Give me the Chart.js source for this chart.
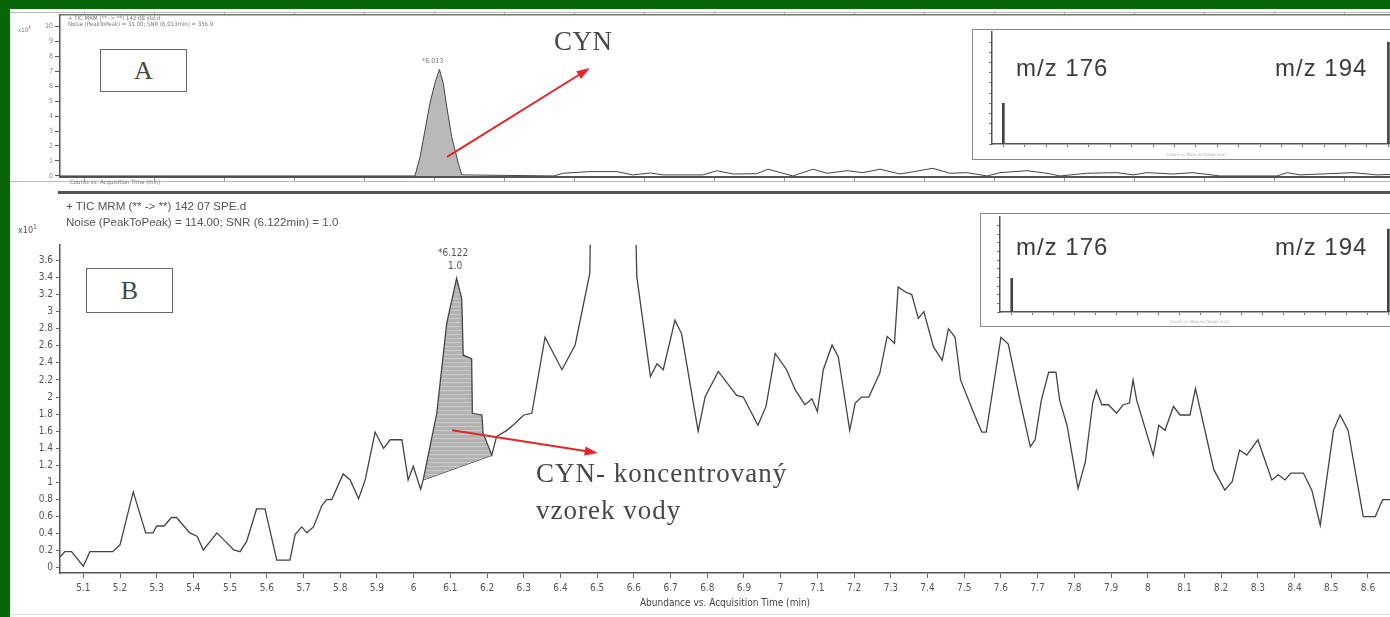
<!DOCTYPE html>
<html>
<head>
<meta charset="utf-8">
<script src="https://cdn.jsdelivr.net/npm/chart.js@4.4.1/dist/chart.umd.min.js"></script>
<style>
  html, body { margin: 0; padding: 0; }
  body { width: 1390px; height: 617px; background: #056705; overflow: hidden; position: relative; }
  #sheet { position: absolute; left: 10px; top: 9px; width: 1380px; height: 608px; background: #fff; }
  .abs { position: absolute; white-space: nowrap; line-height: 1; }
  canvas { display: block; }
  .tiny { font-family: 'DejaVu Sans Condensed', 'Liberation Sans Narrow', sans-serif; color: #555; }
  .head { font-family: 'Liberation Sans', Arial, sans-serif; color: #555; font-size: 11.6px; }
  .serif { font-family: 'Liberation Serif', 'Times New Roman', serif; color: #474747; }
  .box { border: 1px solid #666; background: #fff; text-align: center; }
  .inset { border: 1px solid #888; background: #fff; overflow: hidden; }
  .mz { font-family: 'Liberation Sans', Arial, sans-serif; font-size: 24px; letter-spacing: 1px; color: #3c3c3c; }
  .rule { position: absolute; }
</style>
</head>
<body>
<div id="sheet"></div>

<!-- panel A -->
<div class="rule" style="left:10px;top:12px;width:1380px;height:1px;background:#bbb"></div>
<canvas id="chartA" class="abs" width="1380" height="180" style="left:10px;top:9px"></canvas>
<div class="rule" style="left:10px;top:181px;width:1380px;height:1px;background:#bbb"></div>
<div class="rule" style="left:58px;top:191px;width:1332px;height:3px;background:#555"></div>

<!-- panel B -->
<canvas id="chartB" class="abs" width="1380" height="422" style="left:10px;top:195px"></canvas>
<div class="rule" style="left:10px;top:614px;width:1380px;height:1px;background:#ddd"></div>

<!-- spectra insets -->
<div class="abs inset" style="left:972px;top:29px;width:428px;height:129px">
  <canvas id="insetA" width="428" height="129"></canvas>
</div>
<div class="abs inset" style="left:980px;top:213px;width:418px;height:112px">
  <canvas id="insetB" width="418" height="112"></canvas>
</div>
<div class="abs mz" style="left:1016px;top:56px">m/z 176</div>
<div class="abs mz" style="left:1275px;top:56px">m/z 194</div>
<div class="abs mz" style="left:1016px;top:235px">m/z 176</div>
<div class="abs mz" style="left:1275px;top:235px">m/z 194</div>

<!-- labels -->
<div class="abs tiny" style="left:68px;top:15px;font-size:6px;color:#777">+ TIC MRM (** -&gt; **) 142 08 std.d</div>
<div class="abs tiny" style="left:68px;top:21px;font-size:6px;color:#777">Noise (PeakToPeak) = 31.00; SNR (6.013min) = 356.9</div>
<div class="abs tiny" style="left:18px;top:25px;font-size:6px;color:#777">x10<sup>4</sup></div>
<div class="abs tiny" style="left:422px;top:58px;font-size:7px;color:#777">*6.013</div>
<div class="abs tiny" style="left:70px;top:179px;font-size:6px;color:#777">Counts vs. Acquisition Time (min)</div>

<div class="abs box serif" style="left:100px;top:49px;width:85px;height:41px;line-height:41px;font-size:26px">A</div>
<div class="abs box serif" style="left:86px;top:268px;width:85px;height:43px;line-height:43px;font-size:26px">B</div>
<div class="abs serif" style="left:554px;top:28px;font-size:27px;letter-spacing:0.5px">CYN</div>
<div class="abs serif" style="left:536px;top:460px;font-size:27px;letter-spacing:1px">CYN- koncentrovaný</div>
<div class="abs serif" style="left:536px;top:497px;font-size:27px;letter-spacing:1px">vzorek vody</div>

<div class="abs head" style="left:66px;top:200px">+ TIC MRM (** -&gt; **) 142 07 SPE.d</div>
<div class="abs head" style="left:66px;top:216px">Noise (PeakToPeak) = 114.00; SNR (6.122min) = 1.0</div>
<div class="abs tiny" style="left:18px;top:224px;font-size:9px">x10<sup style="font-size:7px">1</sup></div>
<div class="abs tiny" style="left:438px;top:248px;font-size:10px">*6.122</div>
<div class="abs tiny" style="left:448px;top:261px;font-size:10px">1.0</div>

<script>
// panel B: concentrated water sample, abundance (x10^1) vs time (min)
const bTime = [5.037,5.05,5.068,5.10,5.118,5.18,5.20,5.236,5.27,5.29,
  5.30,5.32,5.34,5.354,5.39,5.41,5.427,5.464,5.51,5.527,
  5.545,5.572,5.595,5.627,5.663,5.677,5.695,5.709,5.727,5.75,
  5.763,5.777,5.808,5.827,5.85,5.868,5.895,5.918,5.936,5.968,
  5.985,5.999,6.019,6.026,6.063,6.09,6.117,6.131,6.135,6.158,
  6.16,6.186,6.189,6.213,6.226,6.254,6.276,6.30,6.322,6.358,
  6.404,6.44,6.48,6.485,6.60,6.608,6.645,6.663,6.68,6.712,
  6.73,6.775,6.794,6.83,6.88,6.898,6.938,6.96,6.985,7.016,
  7.04,7.066,7.085,7.10,7.116,7.14,7.157,7.188,7.203,7.22,
  7.24,7.27,7.29,7.31,7.32,7.34,7.357,7.375,7.39,7.416,
  7.44,7.457,7.475,7.49,7.53,7.548,7.56,7.60,7.62,7.652,
  7.68,7.693,7.71,7.73,7.75,7.76,7.78,7.81,7.83,7.85,
  7.86,7.875,7.893,7.915,7.933,7.95,7.96,7.97,8.015,8.03,
  8.047,8.07,8.088,8.115,8.13,8.18,8.21,8.23,8.25,8.27,
  8.30,8.338,8.356,8.374,8.39,8.424,8.447,8.47,8.506,8.524,
  8.546,8.587,8.62,8.64,8.66];
const bAbund = [0.13,0.19,0.19,0.02,0.19,0.19,0.27,0.89,0.41,0.41,
  0.49,0.49,0.59,0.59,0.41,0.37,0.21,0.41,0.21,0.19,
  0.31,0.69,0.69,0.09,0.09,0.39,0.48,0.41,0.48,0.73,
  0.80,0.80,1.10,1.03,0.81,1.03,1.59,1.40,1.50,1.50,
  1.03,1.19,0.92,1.03,1.81,2.86,3.39,3.15,2.49,2.45,
  1.81,1.79,1.58,1.32,1.54,1.61,1.69,1.79,1.81,2.70,
  2.32,2.61,3.45,5.0,5.0,3.41,2.24,2.39,2.32,2.90,
  2.74,1.60,2.0,2.30,2.02,2.0,1.67,1.89,2.51,2.32,
  2.08,1.91,1.98,1.83,2.32,2.61,2.47,1.61,1.93,2.0,
  2.0,2.28,2.71,2.63,3.29,3.23,3.20,2.92,3.0,2.59,
  2.43,2.80,2.70,2.20,1.77,1.59,1.59,2.70,2.62,1.96,
  1.42,1.5,1.96,2.29,2.29,1.96,1.67,0.93,1.24,1.93,
  2.08,1.91,1.91,1.81,1.91,1.93,2.2,1.96,1.32,1.67,
  1.61,1.89,1.79,1.79,2.1,1.15,0.91,1.01,1.38,1.32,
  1.50,1.03,1.09,1.03,1.11,1.11,0.91,0.50,1.61,1.79,
  1.61,0.60,0.60,0.80,0.80];
const bPeakStart = 6.026;
const bPeakEnd = 6.213;
const bTimeTicks = [5.1,5.2,5.3,5.4,5.5,5.6,5.7,5.8,5.9,6.0,6.1,6.2,6.3,6.4,6.5,6.6,6.7,6.8,
  6.9,7.0,7.1,7.2,7.3,7.4,7.5,7.6,7.7,7.8,7.9,8.0,8.1,8.2,8.3,8.4,8.5,8.6];
const bAbundTicks = [0,0.2,0.4,0.6,0.8,1,1.2,1.4,1.6,1.8,2,2.2,2.4,2.6,2.8,3,3.2,3.4,3.6];

// panel A: standard, counts (x10^4) vs time
const aTime = [4.929,5.943,5.958,5.972,5.986,6.0,6.013,6.024,6.034,6.048,
  6.067,6.077,6.34,6.366,6.443,6.52,6.566,6.615,6.652,6.766,
  6.806,6.852,6.92,6.952,7.023,7.08,7.12,7.178,7.223,7.272,
  7.329,7.423,7.472,7.52,7.578,7.615,7.692,7.749,7.786,7.863,
  7.949,7.995,8.035,8.109,8.166,8.243,8.406,8.435,8.472,8.623,
  8.692,8.729];
const aSignal = [0,0,1.29,3.07,4.85,6.18,7.11,6.18,4.62,2.62,
  0.85,0.07,0,0.18,0.29,0.29,0.07,0.2,0.07,0.07,
  0.35,0.13,0.15,0.45,0,0.45,0.18,0.35,0.22,0.45,
  0.13,0.51,0.18,0.22,0,0.22,0.35,0.18,0,0.18,
  0.22,0.07,0.22,0.13,0.22,0,0,0.22,0.07,0.22,
  0.07,0.1];
const aPeakStart = 5.943;
const aPeakEnd = 6.077;
const aTimeTicks = [5.0,5.2,5.4,5.6,5.8,6.0,6.2,6.4,6.6,6.8,7.0,7.2,7.4,7.6,7.8,8.0,8.2,8.4,8.6];
const aSignalTicks = [0,0.5,1,1.5,2,2.5,3,3.5,4,4.5,5,5.5,6,6.5,7,7.5,8,8.5,9,9.5,10,10.5];

// product ion spectra
const mzTop = [176, 194];
const intTop = [40, 100];
const mzBottom = [176, 194];
const intBottom = [39, 96];
const mzTicks = [176,177,178,179,180,181,182,183,184,185,186,187,188,189,190,191,192,193,194];
const intTicks = [0,10,20,30,40,50,60,70,80,90,100];

const tinyFont = "'DejaVu Sans Condensed', 'Liberation Sans Narrow', sans-serif";
const zip = (xs, ys) => xs.map((x, i) => ({ x, y: ys[i] }));
const between = (xs, ys, lo, hi) => zip(xs, ys).filter((p) => p.x >= lo && p.x <= hi);
const fmt = (v) => String(Math.round(v * 10) / 10);
const setTicks = (arr) => (axis) => { axis.ticks = arr.map((value) => ({ value })); };

function stripes() {
  const c = document.createElement('canvas');
  c.width = 4; c.height = 4;
  const g = c.getContext('2d');
  g.fillStyle = '#b2b2b2'; g.fillRect(0, 0, 4, 4);
  g.fillStyle = '#cacaca'; g.fillRect(0, 3, 4, 1);
  return g.createPattern(c, 'repeat');
}

const arrowPlugin = {
  id: 'arrow',
  afterDatasetsDraw(chart, args, opts) {
    if (!opts || !opts.from) return;
    const { ctx, scales: { x, y } } = chart;
    const x0 = x.getPixelForValue(opts.from[0]), y0 = y.getPixelForValue(opts.from[1]);
    const x1 = x.getPixelForValue(opts.to[0]), y1 = y.getPixelForValue(opts.to[1]);
    const ang = Math.atan2(y1 - y0, x1 - x0);
    const head = 14;
    ctx.save();
    ctx.strokeStyle = ctx.fillStyle = '#e3262b';
    ctx.lineWidth = 2;
    ctx.beginPath();
    ctx.moveTo(x0, y0);
    ctx.lineTo(x1 - head * 0.8 * Math.cos(ang), y1 - head * 0.8 * Math.sin(ang));
    ctx.stroke();
    ctx.beginPath();
    ctx.moveTo(x1, y1);
    ctx.lineTo(x1 - head * Math.cos(ang - 0.33), y1 - head * Math.sin(ang - 0.33));
    ctx.lineTo(x1 - head * Math.cos(ang + 0.33), y1 - head * Math.sin(ang + 0.33));
    ctx.closePath();
    ctx.fill();
    ctx.restore();
  },
};

const axisGrid = { drawOnChartArea: false, tickLength: 5, color: '#666' };

// ---- panel A
new Chart(document.getElementById('chartA'), {
  type: 'line',
  data: {
    datasets: [
      { data: zip(aTime, aSignal), borderColor: '#444', borderWidth: 1, pointRadius: 0, fill: false },
      { data: between(aTime, aSignal, aPeakStart, aPeakEnd), borderWidth: 0, pointRadius: 0,
        fill: 'origin', backgroundColor: '#b9b9b9' },
    ],
  },
  options: {
    responsive: false, animation: false,
    layout: { padding: 0 },
    plugins: { legend: { display: false }, tooltip: { enabled: false },
      arrow: { from: [6.035, 1.27], to: [6.443, 7.2] } },
    scales: {
      x: { type: 'linear', min: 4.929, max: 8.729, afterBuildTicks: setTicks(aTimeTicks),
        afterFit: (s) => { s.height = 12; }, ticks: { display: false },
        grid: { drawOnChartArea: false, tickLength: 5, color: '#999' }, border: { color: '#555', width: 2 } },
      x2: { type: 'linear', position: 'top', min: 4.929, max: 8.729, afterBuildTicks: setTicks(aTimeTicks),
        afterFit: (s) => { s.height = 6; }, ticks: { display: false },
        grid: { drawOnChartArea: false, tickLength: 3, color: '#aaa' }, border: { color: '#777', width: 1.5 } },
      y: { min: -0.07, max: 10.73, afterBuildTicks: setTicks(aSignalTicks),
        afterFit: (s) => { s.width = 50; },
        ticks: { font: { size: 7, family: tinyFont }, color: '#888', padding: 2,
          callback: (v) => (Number.isInteger(v) ? String(v) : '') },
        grid: { drawOnChartArea: false, tickLength: 5, color: '#555' }, border: { color: '#555', width: 1.5 } },
    },
  },
  plugins: [arrowPlugin],
});

// ---- panel B
new Chart(document.getElementById('chartB'), {
  type: 'line',
  data: {
    datasets: [
      { data: zip(bTime, bAbund), borderColor: '#444', borderWidth: 1.3, pointRadius: 0, fill: false },
      { data: between(bTime, bAbund, bPeakStart, bPeakEnd), borderWidth: 0, pointRadius: 0,
        fill: '+1', backgroundColor: stripes() },
      { data: between(bTime, bAbund, bPeakStart, bPeakEnd).filter((p, i, arr) => i === 0 || i === arr.length - 1),
        borderColor: '#333', borderWidth: 1.2, pointRadius: 0, fill: false },
    ],
  },
  options: {
    responsive: false, animation: false,
    layout: { padding: { top: 50, left: 0, right: 0, bottom: 0 } },
    plugins: { legend: { display: false }, tooltip: { enabled: false },
      arrow: { from: [6.105, 1.61], to: [6.502, 1.345] } },
    scales: {
      x: { type: 'linear', min: 5.0365, max: 8.66, afterBuildTicks: setTicks(bTimeTicks),
        afterFit: (s) => { s.height = 44; },
        ticks: { autoSkip: false, maxRotation: 0, font: { size: 10, family: tinyFont }, color: '#555',
          padding: 4, callback: fmt },
        grid: axisGrid, border: { color: '#555', width: 1.5 },
        title: { display: true, text: 'Abundance vs. Acquisition Time (min)', color: '#444',
          font: { size: 10, family: tinyFont }, padding: { top: 0, bottom: 8 } } },
      y: { min: -0.06, max: 3.78, afterBuildTicks: setTicks(bAbundTicks),
        afterFit: (s) => { s.width = 50; },
        ticks: { autoSkip: false, font: { size: 10, family: tinyFont }, color: '#555', padding: 3, callback: fmt },
        grid: { drawOnChartArea: false, tickLength: 4, color: '#666' }, border: { color: '#555', width: 1.5 } },
    },
  },
  plugins: [arrowPlugin],
});

// ---- spectra insets
function spectrum(id, mz, intensity, dims) {
  return new Chart(document.getElementById(id), {
    type: 'bar',
    data: { datasets: [{ data: zip(mz, intensity), backgroundColor: '#444', barThickness: 2 }] },
    options: {
      responsive: false, animation: false,
      layout: { padding: { top: dims.top, left: 0, right: 0, bottom: 0 } },
      plugins: { legend: { display: false }, tooltip: { enabled: false } },
      scales: {
        x: { type: 'linear', offset: false, min: dims.min, max: dims.max, afterBuildTicks: setTicks(mzTicks),
          afterFit: (s) => { s.height = dims.bottom; }, ticks: { display: false },
          grid: { drawOnChartArea: false, offset: false, tickLength: 3, color: '#777' },
          border: { color: '#555', width: 1.5 },
          title: { display: true, text: 'Counts vs. Mass-to-Charge (m/z)', color: '#aaa',
            font: { size: 4, family: tinyFont }, padding: { top: 0, bottom: 2 } } },
        y: { min: 0, max: 110, afterBuildTicks: setTicks(intTicks),
          afterFit: (s) => { s.width = 19; }, ticks: { display: false },
          grid: { drawOnChartArea: false, tickLength: 3, color: '#777' }, border: { color: '#555', width: 1.5 } },
      },
    },
  });
}
spectrum('insetA', mzTop, intTop, { top: 2, bottom: 15, min: 175.47, max: 194.59 });
spectrum('insetB', mzBottom, intBottom, { top: 3, bottom: 14, min: 175.44, max: 194.51 });
</script>
</body>
</html>
